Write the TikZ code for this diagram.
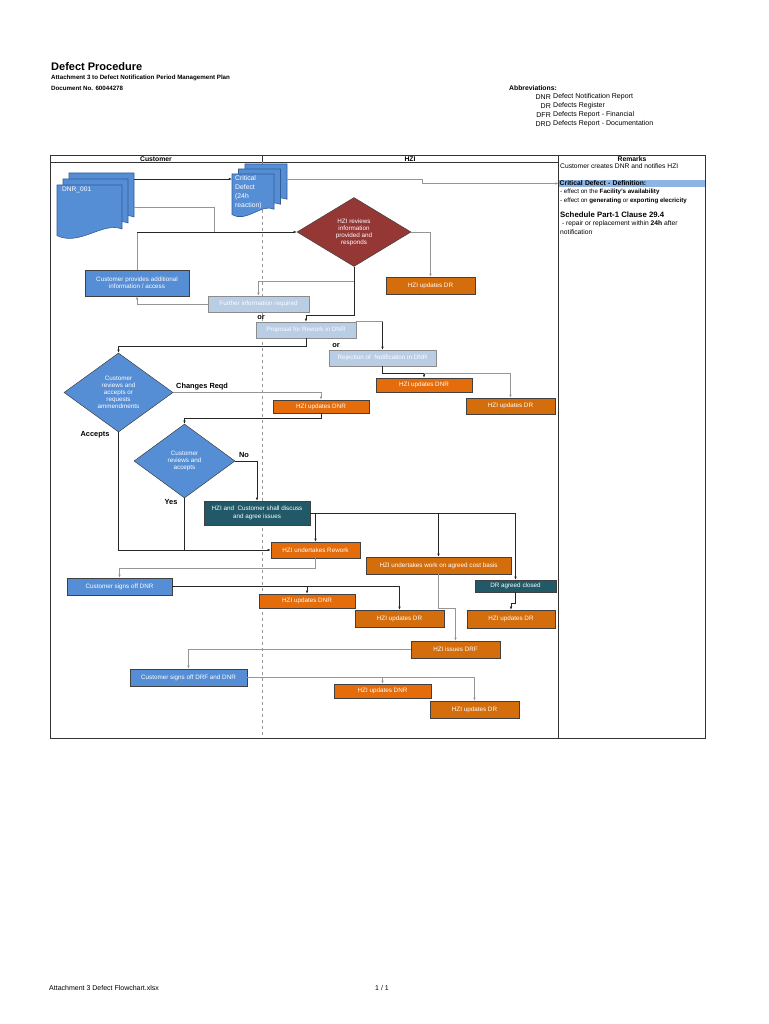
\documentclass[tikz,border=0pt]{standalone}
\usepackage{fontspec}
\setmainfont{Liberation Sans}
\usepackage{tikz}
\usetikzlibrary{arrows.meta, shapes.geometric}
\definecolor{custblue}{RGB}{85,142,213}
\definecolor{docedge}{RGB}{52,92,150}
\definecolor{revred}{RGB}{149,55,53}
\definecolor{hziteal}{RGB}{33,89,104}
\definecolor{dnrorange}{RGB}{228,108,10}
\definecolor{drorange}{RGB}{212,110,12}
\definecolor{paleblue}{RGB}{185,205,229}
\definecolor{markblue}{RGB}{141,180,226}
\definecolor{linegray}{RGB}{150,150,150}

\newcommand{\boxfont}{\fontsize{6.3}{7.4}\selectfont}
% one sheet of a document stack: x, y (top left), width, height
\newcommand{\docpage}[4]{%
  \filldraw[fill=custblue, draw=docedge, line width=0.6pt]
    (#1,#2) -- ({#1+#3},#2) -- ({#1+#3},{#2+0.8*#4})
    .. controls ({#1+0.7*#3},{#2+0.66*#4}) and ({#1+0.35*#3},{#2+1.12*#4}) ..
    (#1,{#2+0.92*#4}) -- cycle;}

\begin{document}
\begin{tikzpicture}[x=1pt, y=-1pt,
    every node/.style={font=\boxfont, inner sep=1pt},
    pbox/.style={draw=black!75, line width=0.5pt, text=white, align=center},
    custbox/.style={pbox, fill=custblue},
    dnrbox/.style={pbox, fill=dnrorange},
    drbox/.style={pbox, fill=drorange},
    hzibox/.style={pbox, fill=hziteal},
    notebox/.style={pbox, fill=paleblue, draw=black!45},
    decision/.style={diamond, draw=black!75, line width=0.5pt, text=white,
        align=center, inner sep=0pt, font=\fontsize{6.3}{7}\selectfont},
    tag/.style={font=\fontsize{7.4}{8}\selectfont\bfseries},
    ln/.style={draw=black!85, line width=0.6pt},
    gln/.style={draw=linegray, line width=0.8pt},
    arr/.style={-{Latex[length=3.2pt,width=2.6pt]}}]
\useasboundingbox (0,0) rectangle (768,1024);

% heading
\node[anchor=west, font=\fontsize{11}{12}\selectfont\bfseries] (title) at (50,67) {Defect Procedure};
\node[anchor=west, font=\fontsize{6.2}{7}\selectfont\bfseries] (subtitle) at (50,78) {Attachment 3 to Defect Notification Period Management Plan};
\node[anchor=west, font=\fontsize{6.2}{7}\selectfont\bfseries] (docno) at (50,88) {Document No. 60044278};
\node[anchor=west, font=\fontsize{6.8}{7}\selectfont\bfseries] (abbrhead) at (508,88) {Abbreviations:};
\foreach \short/\long [count=\i] in {DNR/Defect Notification Report, DR/Defects Register,
    DFR/Defects Report - Financial, DRD/Defects Report - Documentation} {
  \node[anchor=east, font=\fontsize{7}{8}\selectfont] (abbr\i) at (552,{88+9*\i}) {\short};
  \node[anchor=west, font=\fontsize{7}{8}\selectfont] (abbrtxt\i) at (552,{88+9*\i}) {\long};
}

% table frame
\draw[black!80, line width=0.7pt] (50,155) rectangle (705,738);
\draw[black!80, line width=0.7pt] (50,162) -- (558,162);
\draw[black!80, line width=0.7pt] (262,155) -- (262,162);
\draw[black!80, line width=0.7pt] (558,155) -- (558,738);
\draw[black!40, dashed, line width=0.6pt] (262,162) -- (262,738);
\node[font=\fontsize{6.8}{7}\selectfont\bfseries] (custhead) at (156,158.7) {Customer};
\node[font=\fontsize{6.8}{7}\selectfont\bfseries] (hzihead) at (410,158.7) {HZI};
\node[font=\fontsize{6.8}{7}\selectfont\bfseries] (remhead) at (632,158.7) {Remarks};

% remarks
\node[anchor=west, font=\fontsize{6.7}{7}\selectfont] (remark1) at (559,166.5) {Customer creates DNR and notifies HZI};
\node[anchor=west, fill=markblue, minimum height=7.5, text width=144, align=left,
    font=\fontsize{6.8}{7}\selectfont\bfseries] (critdef) at (558.5,183.5) {Critical Defect - Definition:};
\node[anchor=west, font=\fontsize{6.2}{7}\selectfont] (remark2) at (559,191.5) {- effect on the \textbf{Facility's availability}};
\node[anchor=west, font=\fontsize{6.2}{7}\selectfont] (remark3) at (559,200.5) {- effect on \textbf{generating} or \textbf{exporting elecricity}};
\node[anchor=west, font=\fontsize{7.8}{8}\selectfont\bfseries] (remark4) at (559,214.5) {Schedule Part-1 Clause 29.4};
\node[anchor=west, font=\fontsize{6.7}{7}\selectfont] (remark5) at (559,224) {\ - repair or replacement within \textbf{24h} after};
\node[anchor=west, font=\fontsize{6.7}{7}\selectfont] (remark6) at (559,232) {notification};

% document stacks
\docpage{69}{173}{65}{55}
\docpage{63}{179}{65}{55}
\docpage{57}{185}{65}{55}
\node[anchor=north west, text=white, font=\fontsize{6.6}{8}\selectfont] (dnr) at (61,186) {DNR\_001};
\docpage{245}{164}{42}{44}
\docpage{238.5}{169}{42}{44}
\docpage{232}{174}{42}{44}
\node[anchor=north west, text=white, align=left, font=\fontsize{6.8}{9}\selectfont] (crit) at (234,174.5) {Critical\\Defect\\(24h\\reaction)};
\coordinate (dnrtop) at (134,179);
\coordinate (dnrout) at (134,207);
\coordinate (critin) at (232,179);
\coordinate (critout) at (287,179);
\coordinate (dnrjoin) at (214,232);

% process steps
\node[decision, fill=revred, aspect=1.65, minimum width=114, minimum height=69] (reviews) at (354,232) {HZI reviews\\information\\provided and\\responds};
\node[custbox, minimum width=104, minimum height=26] (custprov) at (137,283) {Customer provides additional\\information / access};
\node[notebox, minimum width=101, minimum height=16] (further) at (258.5,304) {Further information required};
\node[drbox, minimum width=89, minimum height=17] (hzidr1) at (430.5,285.5) {HZI updates DR};
\node[notebox, minimum width=100, minimum height=16] (proposal) at (306,330) {Proposal for Rework in DNR};
\node[notebox, minimum width=107, minimum height=16] (rejection) at (382.5,358) {Rejection of \ Notification in DNR};
\node[dnrbox, minimum width=96, minimum height=14] (hzidnr1) at (424,385) {HZI updates DNR};
\node[drbox, minimum width=89, minimum height=16] (hzidr2) at (510.5,406) {HZI updates DR};
\node[decision, fill=custblue, aspect=1.38, minimum width=109, minimum height=79] (custrev1) at (118.5,392.5) {Customer\\reviews and\\accepts or\\requests\\ammendments};
\node[dnrbox, minimum width=96, minimum height=13] (hzidnr2) at (321,406.5) {HZI updates DNR};
\node[decision, fill=custblue, aspect=1.36, minimum width=101, minimum height=74] (custrev2) at (184.5,461) {Customer\\reviews and\\accepts};
\node[hzibox, minimum width=106, minimum height=24] (discuss) at (257,513) {HZI and \ Customer shall discuss\\and agree issues};
\node[dnrbox, minimum width=89, minimum height=16] (rework) at (315.5,550) {HZI undertakes Rework};
\node[drbox, minimum width=145, minimum height=17] (costbasis) at (438.5,565.5) {HZI undertakes work on agreed cost basis};
\node[hzibox, minimum width=81, minimum height=12] (drclosed) at (515.5,586) {DR agreed closed};
\node[drbox, minimum width=88, minimum height=18] (hzidr3) at (511,619) {HZI updates DR};
\node[custbox, minimum width=105, minimum height=17] (signdnr) at (119.5,586.5) {Customer signs off DNR};
\node[dnrbox, minimum width=96, minimum height=14] (hzidnr3) at (307,601) {HZI updates DNR};
\node[drbox, minimum width=89, minimum height=17] (hzidr4) at (399.5,618.5) {HZI updates DR};
\node[drbox, minimum width=89, minimum height=17] (drf) at (455.5,649.5) {HZI issues DRF};
\node[custbox, minimum width=117, minimum height=17] (signdrf) at (188.5,677.5) {Customer signs off DRF and DNR};
\node[dnrbox, minimum width=97, minimum height=14] (hzidnr4) at (382.5,691) {HZI updates DNR};
\node[drbox, minimum width=89, minimum height=17] (hzidr5) at (474.5,709.5) {HZI updates DR};

% branch labels
\node[tag] (or1) at (261,318) {or};
\node[tag] (or2) at (336,346) {or};
\node[tag, anchor=west] (changes) at (175,387) {Changes Reqd};
\node[tag] (accepts) at (95,434.5) {Accepts};
\node[tag] (no) at (244,455) {No};
\node[tag] (yes) at (171,501.5) {Yes};

% connectors
\draw[ln, arr] (dnrtop) -- (critin);
\draw[gln, arr] (critout) -- (422,179) |- (critdef.west);
\draw[gln] (dnrout) -| (dnrjoin);
\draw[gln] (custprov.north) -- (custprov.north |- reviews.west);
\draw[ln, arr] (custprov.north |- reviews.west) -- (reviews.west);
\draw[gln, arr] (reviews.east) -| (hzidr1.north);
\draw[ln, arr] (reviews.south) -- ++(0,49) -| (proposal.north);
\coordinate (infosplit) at (354,281);
\draw[gln, arr] (infosplit) -| (further.north);
\draw[gln, arr] (further.west) -| (custprov.south);
\draw[gln] (proposal.north east) -- (rejection.north |- proposal.north east);
\draw[ln, arr] (rejection.north |- proposal.north east) -- (rejection.north);
\draw[ln, arr] (proposal.south) -- ++(0,8) -| (custrev1.north);
\draw[ln, arr] (rejection.south) -- ++(0,7) -| (hzidnr1.north);
\coordinate (rejsplit) at (424,373);
\draw[gln, arr] (rejsplit) -| (hzidr2.north);
\draw[gln, arr] (custrev1.east) -| (hzidnr2.north);
\draw[ln, arr] (hzidnr2.south) -- ++(0,5) -| (custrev2.north);
\draw[ln, arr] (custrev1.south) |- (rework.west);
\draw[ln] (custrev2.south) -- (custrev2.south |- rework.west);
\draw[ln, arr] (custrev2.east) -| (discuss.north);
\draw[ln, arr] (discuss.east) -| (drclosed.north);
\draw[ln, arr] (discuss.east -| rework.north) -- (rework.north);
\draw[ln, arr] (discuss.east -| costbasis.north) -- (costbasis.north);
\draw[ln, arr] (drclosed.south) -- ++(0,11) -| (hzidr3.north);
\draw[gln, arr] (rework.south) -- ++(0,10) -| (signdnr.north);
\draw[ln, arr] (signdnr.east) -| (hzidr4.north);
\draw[ln, arr] (signdnr.east -| hzidnr3.north) -- (hzidnr3.north);
\draw[gln, arr] (costbasis.south) -- ++(0,34) -| (drf.north);
\draw[gln, arr] (drf.west) -| (signdrf.north);
\draw[gln, arr] (signdrf.east) -| (hzidr5.north);
\draw[gln, arr] (signdrf.east -| hzidnr4.north) -- (hzidnr4.north);

% footer
\node[anchor=west, font=\fontsize{7}{8}\selectfont] (footfile) at (48,988) {Attachment 3 Defect Flowchart.xlsx};
\node[font=\fontsize{7}{8}\selectfont] (footpage) at (382,988) {1 / 1};
\end{tikzpicture}
\end{document}
